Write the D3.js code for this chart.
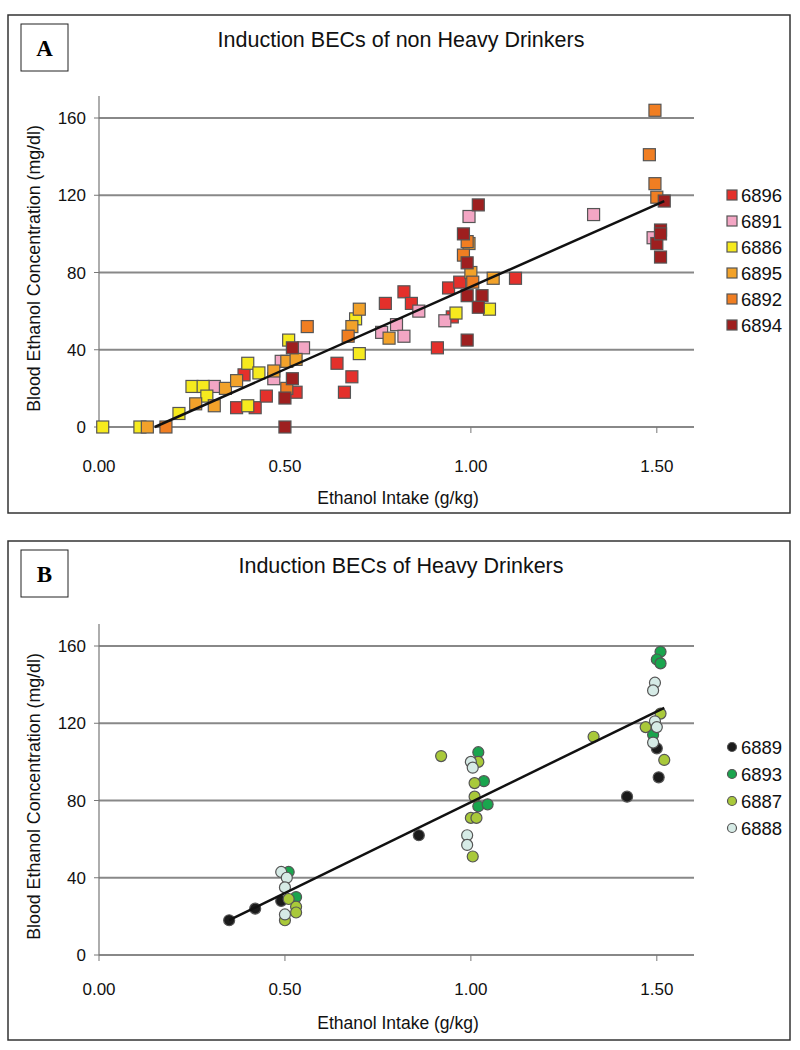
<!DOCTYPE html>
<html><head><meta charset="utf-8">
<script src="https://cdn.jsdelivr.net/npm/d3@7/dist/d3.min.js"></script>
<style>body{margin:0;background:#fff}svg{display:block}</style>
</head><body>
<svg id="c" width="800" height="1050"></svg>
<script>
// ---------- DATA ----------
const xTicks = [0, 0.5, 1.0, 1.5];
const yTicks = [0, 40, 80, 120, 160];

const seriesA = ["6896", "6891", "6886", "6895", "6892", "6894"];
const colorsA = ["#e4302b", "#f3a6c4", "#f6ea1e", "#f2a22a", "#f07e22", "#9e1f1f"];
const a6896 = [[0.37,10],[0.42,10],[0.45,16],[0.39,27],[0.53,18],[0.64,33],[0.68,26],[0.66,18],[0.77,64],[0.82,70],[0.84,64],[0.91,41],[0.95,57],[0.94,72],[0.97,75],[1.12,77]];
const a6891 = [[0.31,21],[0.49,34],[0.47,25],[0.55,41],[0.76,49],[0.80,53],[0.82,47],[0.86,60],[0.93,55],[0.995,109],[1.33,110],[1.49,98]];
const a6886 = [[0.01,0],[0.11,0],[0.215,7],[0.25,21],[0.28,21],[0.29,16],[0.40,11],[0.40,33],[0.43,28],[0.51,45],[0.69,56],[0.70,38],[0.96,59],[1.05,61]];
const a6895 = [[0.13,0],[0.26,12],[0.31,11],[0.34,20],[0.37,24],[0.47,29],[0.505,34],[0.53,35],[0.68,52],[0.70,61],[0.78,46],[1.00,80],[1.06,77],[0.995,95]];
const a6892 = [[0.18,0],[0.505,20],[0.56,52],[0.67,47],[0.99,96],[0.98,89],[1.005,75],[1.495,164],[1.48,141],[1.495,126],[1.50,119]];
const a6894 = [[0.50,0],[0.50,15],[0.52,25],[0.52,41],[0.99,85],[0.99,68],[1.03,68],[1.02,62],[0.99,45],[1.02,115],[0.98,100],[1.52,117],[1.51,102],[1.50,95],[1.51,100],[1.51,88]];
const dataA = [a6896, a6891, a6886, a6895, a6892, a6894];
const fitA = [[0.15,0],[1.52,117]];

const seriesB = ["6889", "6893", "6887", "6888"];
const colorsB = ["#1b1b1b", "#1aa54e", "#a9c93a", "#d6ebe6"];
const b6889 = [[0.35,18],[0.42,24],[0.49,28],[0.86,62],[1.42,82],[1.505,92],[1.50,107]];
const b6893 = [[0.51,43],[0.53,30],[1.02,105],[1.035,90],[1.02,77],[1.045,78],[1.51,157],[1.50,153],[1.51,151],[1.49,114]];
const b6887 = [[0.51,29],[0.53,25],[0.53,22],[0.50,18],[0.92,103],[1.02,100],[1.01,89],[1.01,82],[1.00,71],[1.015,71],[1.005,51],[1.33,113],[1.51,125],[1.47,118],[1.52,101]];
const b6888 = [[0.49,43],[0.505,40],[0.50,35],[0.50,21],[1.00,100],[1.005,97],[0.99,62],[0.99,57],[1.495,141],[1.49,137],[1.495,121],[1.50,118],[1.49,110]];
const dataB = [b6889, b6893, b6887, b6888];
const fitB = [[0.35,18],[1.52,128]];

// ---------- DRAW ----------
const svg = d3.select("#c");
const font = "Liberation Sans, Arial, sans-serif";

function panel(o) {
  const g = svg.append("g");
  g.append("rect").attr("x", 8).attr("y", o.top).attr("width", 782).attr("height", o.h)
    .attr("fill", "none").attr("stroke", "#333").attr("stroke-width", 1.5);
  g.append("rect").attr("x", 21).attr("y", o.top + 9).attr("width", 47).attr("height", 47)
    .attr("fill", "none").attr("stroke", "#222").attr("stroke-width", 1);
  g.append("text").attr("x", 44.5).attr("y", o.top + 41).attr("text-anchor", "middle")
    .attr("font-family", "Liberation Serif, Times New Roman, serif").attr("font-weight", "bold")
    .attr("font-size", 23).text(o.letter);
  g.append("text").attr("x", 401).attr("y", o.top + 32).attr("text-anchor", "middle")
    .attr("font-family", font).attr("font-size", 21.5).attr("fill", "#111").text(o.title);

  const x = d3.scaleLinear().domain([0, 1.6]).range([99, 694]);
  const y = d3.scaleLinear().domain([0, 160]).range([o.y0, o.y0 - 309]);

  // gridlines
  g.selectAll(".grid").data(yTicks).join("line")
    .attr("x1", x(0)).attr("x2", x(1.6)).attr("y1", d => y(d)).attr("y2", d => y(d))
    .attr("stroke", "#888").attr("stroke-width", 2);
  // y axis line
  g.append("line").attr("x1", x(0)).attr("x2", x(0)).attr("y1", y(160) - 22).attr("y2", y(0))
    .attr("stroke", "#777").attr("stroke-width", 1.2);
  // y ticks
  g.selectAll(".yt").data(yTicks).join("line")
    .attr("x1", x(0) - 5).attr("x2", x(0)).attr("y1", d => y(d)).attr("y2", d => y(d))
    .attr("stroke", "#777").attr("stroke-width", 1);
  g.selectAll(".yl").data(yTicks).join("text")
    .attr("x", x(0) - 13).attr("y", d => y(d) + 6).attr("text-anchor", "end")
    .attr("font-family", font).attr("font-size", 17).attr("fill", "#111").text(d => d);
  // x ticks
  g.selectAll(".xt").data(xTicks).join("line")
    .attr("x1", d => x(d)).attr("x2", d => x(d)).attr("y1", y(0)).attr("y2", y(0) + 6)
    .attr("stroke", "#777").attr("stroke-width", 1);
  g.selectAll(".xl").data(xTicks).join("text")
    .attr("x", d => x(d)).attr("y", y(0) + o.tickOff).attr("text-anchor", "middle")
    .attr("font-family", font).attr("font-size", 17).attr("fill", "#111").text(d => d.toFixed(2));
  // axis titles
  g.append("text").attr("x", 398).attr("y", y(0) + o.titleOff).attr("text-anchor", "middle")
    .attr("font-family", font).attr("font-size", 17.5).attr("fill", "#111").text("Ethanol Intake (g/kg)");
  g.append("text").attr("transform", `translate(40,${y(80) - 4}) rotate(-90)`).attr("text-anchor", "middle")
    .attr("font-family", font).attr("font-size", 17.8).attr("fill", "#111").text("Blood Ethanol Concentration (mg/dl)");

  // points
  o.data.forEach((pts, i) => {
    const sel = g.append("g").selectAll("m").data(pts);
    if (o.shape === "square") {
      sel.join("rect").attr("x", d => x(d[0]) - 6).attr("y", d => y(d[1]) - 6)
        .attr("width", 12).attr("height", 12)
        .attr("fill", o.colors[i]).attr("stroke", "#555").attr("stroke-width", 1.2);
    } else {
      sel.join("circle").attr("cx", d => x(d[0])).attr("cy", d => y(d[1])).attr("r", 5.5)
        .attr("fill", o.colors[i]).attr("stroke", "#555").attr("stroke-width", 1.2);
    }
  });
  // regression line
  g.append("path").datum(o.fit)
    .attr("d", d3.line().x(d => x(d[0])).y(d => y(d[1])))
    .attr("stroke", "#111").attr("stroke-width", 2.5).attr("fill", "none");

  // legend
  const lg = g.selectAll(".lg").data(o.series).join("g")
    .attr("transform", (d, i) => `translate(732,${o.legTop + i * o.legStep})`);
  if (o.shape === "square") {
    lg.append("rect").attr("x", -5).attr("y", -5).attr("width", 10).attr("height", 10)
      .attr("fill", (d, i) => o.colors[i]).attr("stroke", "#555").attr("stroke-width", 1.2);
  } else {
    lg.append("circle").attr("r", 4.5)
      .attr("fill", (d, i) => o.colors[i]).attr("stroke", "#555").attr("stroke-width", 1.2);
  }
  lg.append("text").attr("x", 9).attr("y", 7).attr("font-family", font).attr("font-size", 18.5)
    .attr("fill", "#111").text(d => d);
}

panel({top: 15, h: 498, letter: "A", title: "Induction BECs of non Heavy Drinkers", y0: 427,
  tickOff: 45, titleOff: 77,
  data: dataA, colors: colorsA, series: seriesA, shape: "square", fit: fitA, legTop: 195, legStep: 26});
panel({top: 541, h: 499, letter: "B", title: "Induction BECs of Heavy Drinkers", y0: 955,
  tickOff: 40, titleOff: 74,
  data: dataB, colors: colorsB, series: seriesB, shape: "circle", fit: fitB, legTop: 747, legStep: 27});
</script>
</body></html>
